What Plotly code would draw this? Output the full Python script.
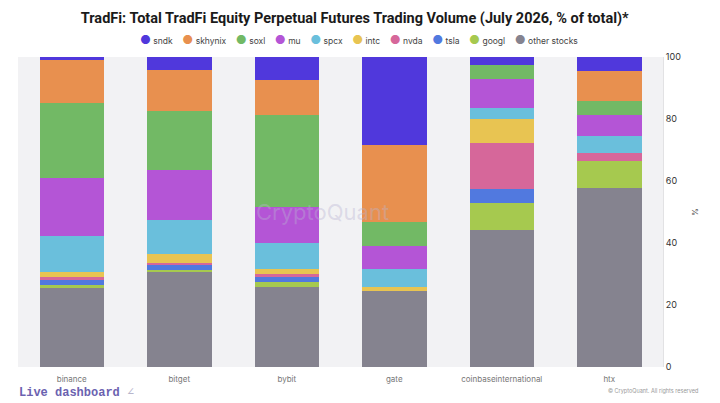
import plotly.graph_objects as go

exchanges = ["binance", "bitget", "bybit", "gate", "coinbaseinternational", "htx"]

# % of total volume per exchange
sndk = [1.1, 4.1, 7.3, 28.3, 2.5, 4.6]
skhynix = [13.6, 13.4, 11.5, 24.9, 0.0, 9.6]
soxl = [24.3, 19.0, 29.6, 7.8, 4.5, 4.4]
mu = [18.8, 16.2, 11.5, 7.3, 9.3, 7.0]
spcx = [11.6, 10.9, 8.6, 5.9, 3.8, 5.4]
intc = [1.5, 2.7, 1.6, 1.2, 7.5, 0.0]
nvda = [1.0, 0.9, 0.9, 0.0, 14.9, 2.6]
tsla = [1.5, 1.4, 1.6, 0.0, 4.5, 0.0]
googl = [1.1, 0.8, 1.6, 0.0, 8.9, 8.7]
other_stocks = [25.5, 30.6, 25.8, 24.6, 44.1, 57.7]

y_ticks = [0, 20, 40, 60, 80, 100]

# stacking order bottom -> top
series = [
    ("other stocks", other_stocks, "#85838f"),
    ("googl", googl, "#a6c94f"),
    ("tsla", tsla, "#5179df"),
    ("nvda", nvda, "#d6679a"),
    ("intc", intc, "#e8c452"),
    ("spcx", spcx, "#6abfdc"),
    ("mu", mu, "#b455d6"),
    ("soxl", soxl, "#72b965"),
    ("skhynix", skhynix, "#e8904f"),
    ("sndk", sndk, "#5038dc"),
]

fig = go.Figure()

for name, vals, col in series:
    fig.add_trace(go.Bar(x=exchanges, y=vals, name=name, marker_color=col,
                         marker_line_width=0))

# page body has an 8px margin, so the figure is a bit smaller than the window
fig.update_layout(
    width=712, height=395,
    barmode="stack", bargap=0.4, showlegend=False,
    paper_bgcolor="white", plot_bgcolor="#f2f2f4",
    margin=dict(l=10, r=57, t=49, b=36, autoexpand=False),
    font=dict(family="Inter, Roboto, sans-serif", size=9, color="#333"),
    title=dict(text="<b>TradFi: Total TradFi Equity Perpetual Futures Trading Volume (July 2026, % of total)*</b>",
               x=0.487, xanchor="center", y=0.975, yanchor="middle",
               font=dict(size=14.5, color="#1a1a1a", family="Roboto, Inter, sans-serif")),
    xaxis=dict(showgrid=False, ticks="", tickfont=dict(size=8, color="#777"),
               showline=False, ticklabelstandoff=6),
    yaxis=dict(side="right", range=[0, 100], tickvals=y_ticks, showgrid=False,
               zeroline=False, ticks="", tickfont=dict(size=9, color="#333"),
               title=dict(text="%", font=dict(size=8, color="#555"), standoff=12),
               showline=True, linecolor="#e2e2e4", linewidth=1),
)

# compact legend with round markers, top of stack first
legend_text = "    ".join(
    "<span style='color:%s;font-size:12px'>●</span> %s" % (col, name)
    for name, vals, col in reversed(series)
)
fig.add_annotation(text=legend_text, xref="paper", yref="paper", x=0.529, y=1.055,
                   xanchor="center", yanchor="middle", showarrow=False,
                   font=dict(size=8.5, color="#444"))

fig.add_annotation(text="CryptoQuant", xref="paper", yref="paper", x=0.472, y=0.5,
                   showarrow=False, font=dict(size=22, color="rgba(185,180,210,0.4)"))
fig.add_annotation(text="<b>Live dashboard</b> <span style='color:#b8b6cc'>∠</span>",
                   xref="paper", yref="paper", x=-0.002, y=-0.084, xanchor="left",
                   yanchor="middle", showarrow=False,
                   font=dict(size=12, color="#6b62b0", family="Liberation Mono, DejaVu Sans Mono, monospace"))
fig.add_annotation(text="© CryptoQuant. All rights reserved", xref="paper", yref="paper",
                   x=1.058, y=-0.077, xanchor="right", yanchor="middle", showarrow=False,
                   font=dict(size=5.5, color="#999"))

fig.write_html("out.html")
